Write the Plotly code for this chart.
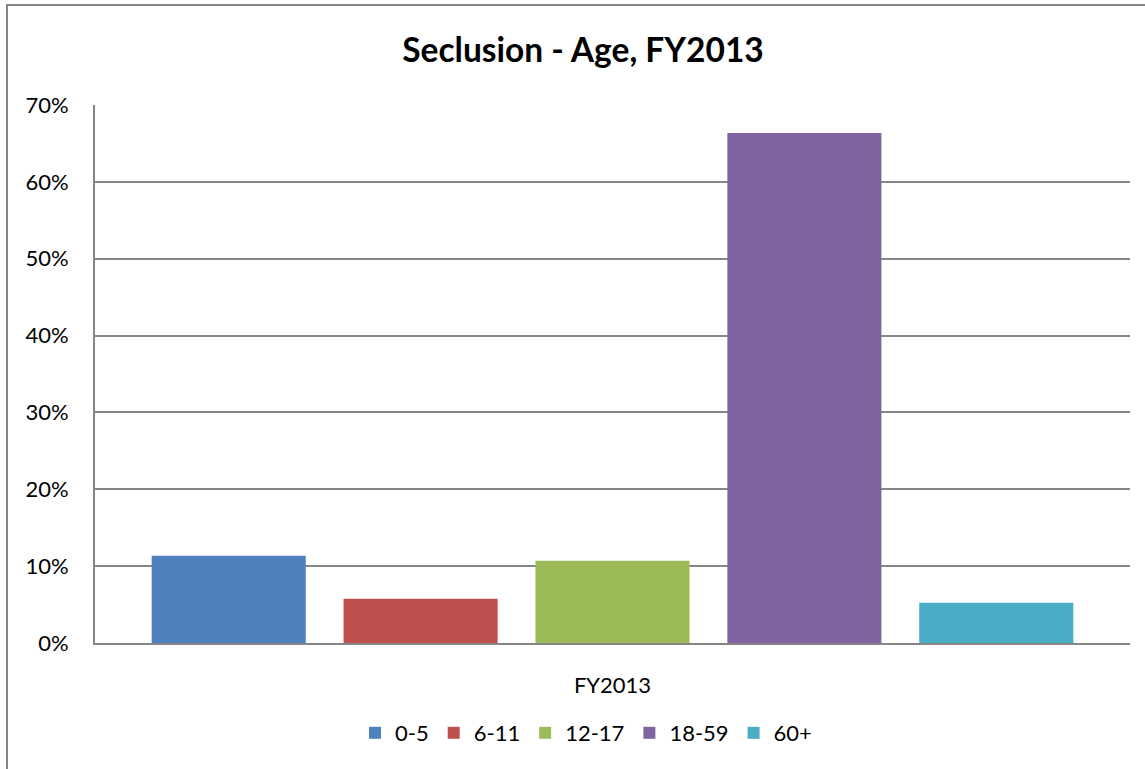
import plotly.graph_objects as go

categories = ["FY2013"]
series_names = ["0-5", "6-11", "12-17", "18-59", "60+"]
series_values = [0.1135, 0.0576, 0.107, 0.6636, 0.0524]
colors = ["#4F81BD", "#C0504D", "#9BBB59", "#8064A2", "#4BACC6"]
y_ticks = [0, 0.1, 0.2, 0.3, 0.4, 0.5, 0.6, 0.7]
y_labels = ["0%", "10%", "20%", "30%", "40%", "50%", "60%", "70%"]

W, H = 1145, 769
L, R, T, B = 95, 15, 105, 126
pw = W - L - R
ph = H - T - B

fig = go.Figure()
for name, v, c in zip(series_names, series_values, colors):
    fig.add_trace(go.Bar(x=categories, y=[v], name=name, marker=dict(color=c, line=dict(width=0))))

def px2paper_x(px):
    return (px - L) / pw

def px2paper_y(py):
    return (H - B - py) / ph

FONT = "Lato, 'Open Sans', sans-serif"

fig.update_layout(
    width=W, height=H,
    margin=dict(l=L, r=R, t=T, b=B),
    paper_bgcolor="white", plot_bgcolor="white",
    barmode="group", bargap=0.073, bargroupgap=0.197,
    title=dict(text="<b>Seclusion - Age, FY2013</b>", xref="paper", x=px2paper_x(583), xanchor="center",
               y=1 - 50 / H, yanchor="middle",
               font=dict(family=FONT, size=33.5, color="black")),
    font=dict(family=FONT, size=22, color="black"),
    showlegend=True,
    legend=dict(orientation="h", x=px2paper_x(586), xanchor="center",
                y=px2paper_y(733), yanchor="middle",
                font=dict(family=FONT, size=22, color="black"),
                itemwidth=30, traceorder="normal"),
    xaxis=dict(showline=True, linecolor="#868686", linewidth=2, ticks="",
               ticklabelstandoff=22, showgrid=False,
               tickfont=dict(family=FONT, size=22)),
    yaxis=dict(range=[0, 0.7], tickvals=y_ticks, ticktext=y_labels,
               showline=True, linecolor="#868686", linewidth=2,
               showgrid=True, gridcolor="#868686", gridwidth=2,
               zeroline=False, ticks="", ticklabelstandoff=20,
               tickfont=dict(family=FONT, size=22)),
    shapes=[dict(type="rect", xref="paper", yref="paper",
                 x0=px2paper_x(7), x1=px2paper_x(1160),
                 y0=px2paper_y(790), y1=px2paper_y(5),
                 line=dict(color="#868686", width=2), layer="below")],
)

fig.write_html("out.html", config={"displayModeBar": False},
               post_script="document.body.style.margin='0';")
